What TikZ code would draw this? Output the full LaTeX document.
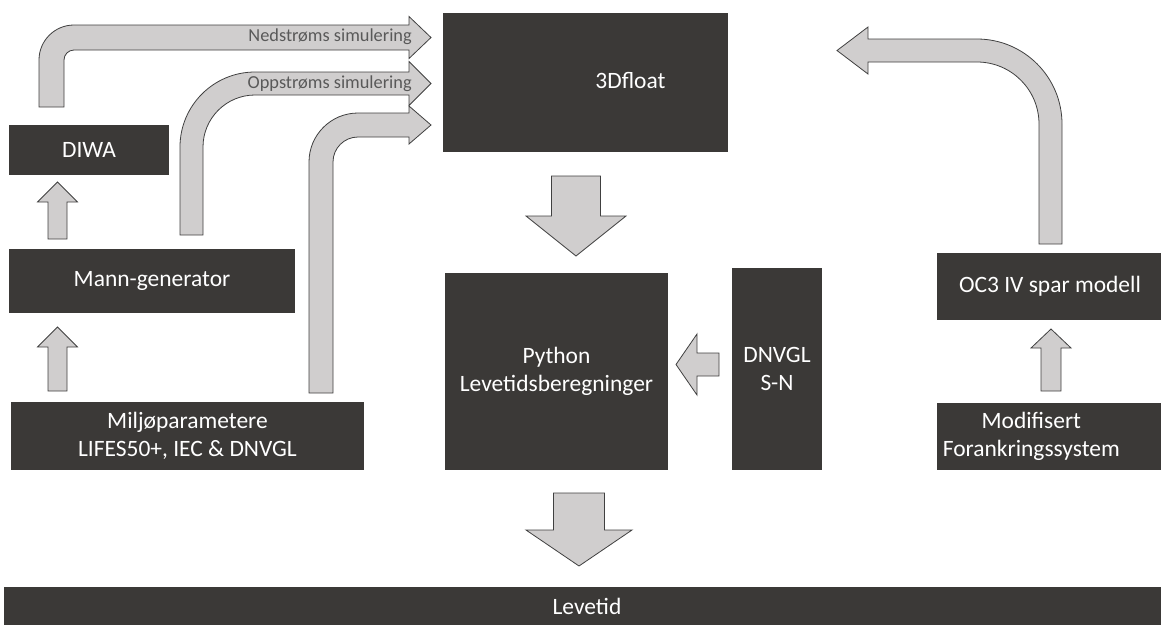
\documentclass[tikz,border=0pt]{standalone}
\usepackage{fontspec}
\setmainfont{Carlito}
\definecolor{boxgray}{HTML}{3B3937}
\definecolor{arrowgray}{HTML}{D0CECE}
\definecolor{edgegray}{HTML}{404040}
\definecolor{labelgray}{HTML}{595959}
\tikzset{
	box/.style={fill=boxgray, text=white, inner sep=0pt, align=center, font=\fontsize{17.6}{21.5}\selectfont},
	boxsize/.style 2 args={minimum width=#1*0.75pt, minimum height=#2*0.75pt},
	boxtext/.style={text=white, align=center, font=\fontsize{17.6}{21.5}\selectfont},
	fatarrow/.style={fill=arrowgray, draw=edgegray, line width=0.6pt, line join=miter},
	arrowlabel/.style={text=labelgray, anchor=east, inner sep=0pt, font=\fontsize{13.75}{16}\selectfont}
}
\begin{document}
\begin{tikzpicture}[x=0.75pt, y=-0.75pt]
	\useasboundingbox (0,0) rectangle (1161,626);
	% boxes
	\node[box, boxsize={160}{50}] (diwa) at (89,150) {DIWA};
	\node[box, boxsize={286}{64}] (mann) at (152,281) {Mann-generator};
	\node[box, boxsize={353}{68}] (milj) at (187.5,436) {Miljøparametere\\LIFES50+, IEC \& DNVGL};
	\node[box, boxsize={285}{139}, label={[boxtext, xshift=33.75pt, yshift=1.5pt]center:3Dfloat}] (float) at (585.5,82.5) {};
	\node[box, boxsize={223}{197}] (python) at (556.5,371.5) {Python\\Levetidsberegninger};
	\node[box, boxsize={90}{202}] (dnvgl) at (777,369) {DNVGL\\S-N};
	\node[box, boxsize={226}{67}] (oc3) at (1050,286.5) {OC3 IV spar modell};
	\node[box, boxsize={226}{67}, label={[boxtext, xshift=-14pt]center:Modifisert\\Forankringssystem}] (modif) at (1050,436.5) {};
	\node[box, boxsize={1166}{38}] (levetid) at (587,606) {Levetid};
	% straight arrows
	\foreach \cx/\sw/\hw/\ya/\yb/\yc in {57.5/9.5/20/239/202/182, 57.5/9.5/20/391/347/327, 1051/10/20/391/348/329, 576/24.5/50/176/216/256, 579/25.5/53/493/530/566}
	{
		\draw[fatarrow] (\cx-\sw,\ya) -- (\cx-\sw,\yb) -- (\cx-\hw,\yb) -- (\cx,\yc) -- (\cx+\hw,\yb) -- (\cx+\sw,\yb) -- (\cx+\sw,\ya) -- cycle;
	}
	\draw[fatarrow] (719,353) -- (697,353) -- (697,334) -- (676,364.5) -- (697,395) -- (697,376) -- (719,376) -- cycle;
	% bent arrows into 3Dfloat
	\foreach \xo/\yt/\cx/\cy/\ro/\ri/\hh in {39/107/74/60/35/10/21, 180/235/255/147/75/52/22, 309/393/358/162/49/25/19}
	{
		\draw[fatarrow] (\xo,\yt) -- (\xo,\cy) arc[start angle=180, end angle=270, radius=\ro]
			-- (409,\cy-\ro) -- (409,{\cy-(\ro+\ri)/2-\hh}) -- (431,{\cy-(\ro+\ri)/2})
			-- (409,{\cy-(\ro+\ri)/2+\hh}) -- (409,\cy-\ri) -- (\cx,\cy-\ri)
			arc[start angle=270, end angle=180, radius=\ri] -- (\xo+\ro-\ri,\yt) -- cycle;
	}
	\draw[fatarrow] (1062,244) -- (1062,124) arc[start angle=0, end angle=-90, radius=85]
		-- (868,39) -- (868,27) -- (837,50.5) -- (868,74) -- (868,62) -- (977,62)
		arc[start angle=-90, end angle=0, radius=62] -- (1039,244) -- cycle;
	\node[arrowlabel] (nedlabel) at (412,37) {Nedstrøms simulering};
	\node[arrowlabel] (opplabel) at (412,84) {Oppstrøms simulering};
\end{tikzpicture}
\end{document}
